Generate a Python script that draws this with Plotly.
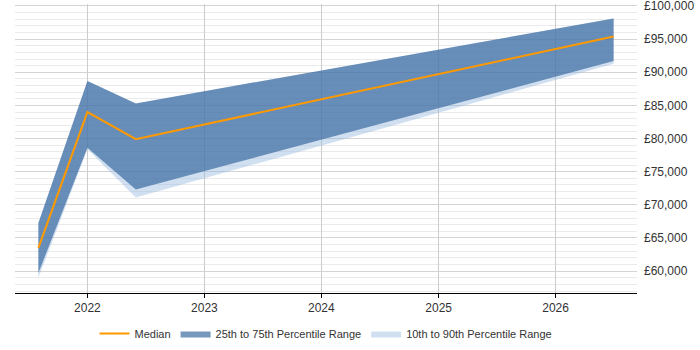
import plotly.graph_objects as go

dates = ["2021-08-01", "2022-01-01", "2022-06-01", "2026-07-01"]
p10 = [59000, 78400, 71100, 91300]
p25 = [59700, 78600, 72300, 91700]
median = [63500, 84000, 79900, 95400]
p75 = [67250, 88700, 85300, 98100]
p90 = [67250, 88700, 85300, 98100]

fig = go.Figure()
fig.add_trace(go.Scatter(
    x=dates + dates[::-1], y=p90 + p10[::-1], fill="toself", mode="lines",
    line=dict(width=0), fillcolor="rgba(153,187,224,0.45)",
    name="10th to 90th Percentile Range", hoverinfo="skip", legendrank=3))
fig.add_trace(go.Scatter(
    x=dates + dates[::-1], y=p75 + p25[::-1], fill="toself", mode="lines",
    line=dict(width=0), fillcolor="rgba(48,98,155,0.66)",
    name="25th to 75th Percentile Range", hoverinfo="skip", legendrank=2))
fig.add_trace(go.Scatter(
    x=dates, y=median, mode="lines", line=dict(color="#FF9900", width=2),
    name="Median", legendrank=1))

fig.update_layout(
    width=700, height=350,
    margin=dict(l=15, r=63, t=4, b=57, autoexpand=False),
    paper_bgcolor="white", plot_bgcolor="white",
    font=dict(family="Liberation Sans, Arial", size=12, color="#333333"),
    legend=dict(orientation="h", x=0.5, xanchor="center", y=-0.14, yanchor="middle",
                font=dict(size=11, color="#333333"), traceorder="normal"),
    showlegend=True,
)
fig.update_xaxes(
    type="date", range=["2021-05-20", "2026-09-12"],
    dtick="M12", tick0="2022-01-01", tickformat="%Y",
    showgrid=True, gridcolor="#cccccc", gridwidth=1,
    showline=True, linecolor="black", linewidth=1,
    ticks="outside", ticklen=4, tickcolor="black",
    zeroline=False,
)
fig.update_yaxes(
    side="right", range=[56700, 100300],
    dtick=5000, tick0=0, tickprefix="£", tickformat=",d",
    showgrid=True, gridcolor="#d4d4d4", gridwidth=1,
    minor=dict(dtick=1000, showgrid=True, gridcolor="#ebebeb", gridwidth=1),
    showline=False, zeroline=False, ticks="", ticklabelstandoff=6,
    ticklabeloverflow="allow",
)

fig.write_html("out.html")
